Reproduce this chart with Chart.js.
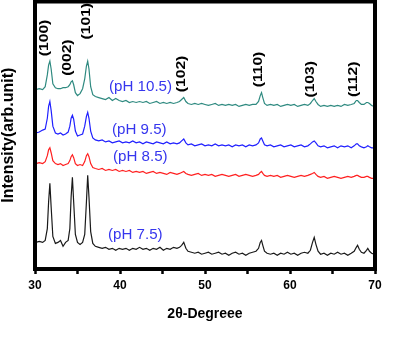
<!DOCTYPE html>
<html>
<head>
<meta charset="utf-8">
<script src="https://cdn.jsdelivr.net/npm/chart.js@4/dist/chart.umd.min.js"></script>
<style>
  body { margin: 0; background: #fff; }
  #wrap { width: 414px; height: 342px; }
</style>
</head>
<body>
<div id="wrap"><canvas id="chart"></canvas></div>
<script>
// 2-theta positions shared by all four patterns
const twoTheta = [
  30.1, 30.5, 30.9, 31.2, 31.45, 31.6, 31.75, 31.9, 32.1, 32.4,
  32.7, 33.0, 33.3, 33.6, 33.9, 34.1, 34.25, 34.4, 34.55, 34.75,
  35.0, 35.3, 35.6, 35.85, 36.05, 36.2, 36.35, 36.55, 36.8, 37.1,
  37.5, 37.9, 38.3, 38.7, 39.1, 39.5, 39.9, 40.3, 40.7, 41.1,
  41.5, 41.9, 42.3, 42.7, 43.1, 43.5, 43.9, 44.3, 44.7, 45.1,
  45.5, 45.9, 46.3, 46.7, 47.0, 47.25, 47.5, 47.75, 48.0, 48.4,
  48.8, 49.2, 49.6, 50.0, 50.4, 50.8, 51.2, 51.6, 52.0, 52.4,
  52.8, 53.2, 53.6, 54.0, 54.4, 54.8, 55.2, 55.6, 56.0, 56.3,
  56.5, 56.65, 56.8, 57.0, 57.3, 57.7, 58.1, 58.5, 58.9, 59.3,
  59.7, 60.1, 60.5, 60.9, 61.3, 61.7, 62.1, 62.4, 62.65, 62.85,
  63.05, 63.3, 63.6, 64.0, 64.4, 64.8, 65.2, 65.6, 66.0, 66.4,
  66.8, 67.2, 67.55, 67.8, 67.95, 68.15, 68.4, 68.7, 69.0, 69.15,
  69.35, 69.6, 69.9
];

// intensities (arb. units, already offset for stacking)
const ph75 = [
  27, 28, 27, 29, 41, 68, 87, 63, 33, 26,
  27, 29, 23, 27, 29, 41, 73, 93, 68, 35,
  27, 25, 27, 35, 68, 95, 73, 38, 26, 23,
  22, 21, 22, 20, 21, 19, 21, 20, 21, 19,
  21, 20, 22, 20, 21, 19, 21, 20, 22, 19,
  21, 20, 22, 21, 22, 24, 27, 21, 18, 17,
  16, 17, 15, 16, 17, 15, 16, 17, 15, 16,
  14, 16, 17, 15, 16, 14, 16, 17, 18, 21,
  27, 29, 24, 18, 16, 15, 16, 14, 16, 15,
  17, 15, 16, 14, 16, 17, 16, 19, 27, 32,
  25, 18, 15, 16, 14, 16, 15, 17, 15, 16,
  14, 16, 18, 22, 24, 20, 17, 16, 19, 21,
  18, 16, 15
];
const ph85 = [
  107, 108, 107, 109, 115, 121, 123, 118, 110, 107,
  106, 107, 105, 106, 107, 110, 114, 116, 113, 107,
  105, 106, 105, 109, 115, 117, 114, 107, 103, 102,
  101, 102, 100, 101, 100, 101, 99, 100, 99, 100,
  98, 99, 98, 99, 97, 98, 99, 97, 98, 97,
  96, 98, 97, 96, 97, 98, 99, 97, 96, 95,
  96, 97, 95, 96, 95, 96, 94, 95, 96, 95,
  94, 95, 96, 94, 95, 96, 95, 94, 95, 96,
  98, 99, 97, 95, 94, 95, 94, 95, 93, 94,
  95, 94, 93, 94, 95, 94, 95, 96, 97, 98,
  96, 94, 93, 94, 92, 93, 94, 93, 92, 93,
  94, 93, 94, 95, 95, 94, 93, 93, 94, 94,
  93, 92, 92
];
const ph95 = [
  138, 139, 141, 142, 153, 165, 170, 161, 145, 138,
  137, 138, 136, 137, 139, 145, 153, 156, 152, 140,
  135, 136, 137, 145, 155, 159, 153, 140, 133, 131,
  130, 131, 129, 130, 128, 129, 130, 128, 129, 128,
  130, 128, 129, 127, 129, 128, 127, 129, 128, 127,
  129, 127, 128, 127, 128, 130, 132, 128, 126, 127,
  125, 126, 127, 125, 126, 125, 127, 125, 126, 125,
  126, 124, 126, 125, 126, 124, 126, 125, 126, 128,
  132, 133, 130, 126, 125, 126, 124, 125, 126, 124,
  125, 126, 124, 125, 126, 124, 125, 127, 129, 130,
  128, 125, 124, 125, 123, 124, 125, 123, 125, 124,
  125, 123, 125, 127, 127, 125, 124, 123, 124, 125,
  124, 123, 123
];
const ph105 = [
  182, 183, 182, 185, 197, 207, 211, 203, 188, 184,
  183, 183, 184, 184, 185, 187, 190, 191, 187, 179,
  176, 178, 183, 193, 206, 211, 203, 185, 177, 175,
  174, 173, 172, 174, 171, 173, 171, 170, 171, 169,
  170, 169, 170, 169, 170, 168, 169, 170, 168, 169,
  168, 169, 168, 169, 170, 172, 174, 170, 168, 167,
  168, 167, 168, 167, 166, 167, 168, 166, 167, 166,
  167, 166, 167, 165, 166, 167, 166, 167, 167, 170,
  176, 179, 174, 168, 166, 167, 166, 167, 165, 166,
  167, 166, 167, 165, 166, 167, 166, 168, 171, 173,
  170, 167, 165, 166, 165, 166, 165, 166, 165, 167,
  166, 167, 168, 171, 171, 169, 167, 167, 169, 169,
  168, 166, 165
];

const xTicks = [30, 40, 50, 60, 70];

// peak indices and sample names, placed in data coordinates
const peakNames = ['(100)', '(002)', '(101)', '(102)', '(110)', '(103)', '(112)'];
const peakAt = [31.06, 33.82, 36.0, 47.24, 56.24, 62.35, 67.47];
const peakLabelY = [234.5, 214.5, 251.5, 198, 202.5, 192.5, 192.5];

const sampleNames = ['(pH 10.5)', '(pH 9.5)', '(pH 8.5)', '(pH 7.5)'];
const sampleAt = [38.71, 39.06, 39.18, 38.59];
const sampleLabelY = [185, 140.5, 113.5, 34];

function pts(ys) {
  return twoTheta.map((x, i) => ({ x: x, y: ys[i] }));
}

function series(label, ys, color) {
  return {
    label: label,
    data: pts(ys),
    borderColor: color,
    borderWidth: 1.2,
    pointRadius: 0,
    tension: 0,
    fill: false
  };
}

const fam = '"Liberation Sans", Arial, sans-serif';

// thick frame round the plot + text labels
const frameAndLabels = {
  id: 'frameAndLabels',
  afterDatasetsDraw(chart) {
    const ctx = chart.ctx;
    const a = chart.chartArea;
    const xs = chart.scales.x;
    const ys = chart.scales.y;
    ctx.save();
    ctx.strokeStyle = '#000';
    ctx.lineWidth = 4;
    ctx.strokeRect(a.left, a.top, a.right - a.left, a.bottom - a.top);
    ctx.restore();

    // rotated hkl labels, reading bottom to top
    const hklFont = Chart.helpers.toFont({ family: fam, size: 13, weight: 'bold' });
    peakNames.forEach((t, i) => {
      ctx.save();
      ctx.translate(xs.getPixelForValue(peakAt[i]), ys.getPixelForValue(peakLabelY[i]));
      ctx.scale(1, 1.2);
      Chart.helpers.renderText(ctx, t, 0, 0, hklFont, {
        rotation: -Math.PI / 2,
        color: '#000',
        textAlign: 'center',
        textBaseline: 'middle'
      });
      ctx.restore();
    });

    const phFont = Chart.helpers.toFont({ family: fam, size: 14 });
    sampleNames.forEach((t, i) => {
      ctx.save();
      ctx.translate(xs.getPixelForValue(sampleAt[i]), ys.getPixelForValue(sampleLabelY[i]));
      ctx.scale(1.08, 1);
      Chart.helpers.renderText(ctx, t, 0, 0, phFont, {
        color: '#3636ee',
        textAlign: 'left',
        textBaseline: 'middle'
      });
      ctx.restore();
    });
  }
};

const chart = document.querySelector('#chart').getContext('2d');

new Chart(chart, {
  type: 'line',
  data: {
    datasets: [
      series('pH 10.5', ph105, '#2f8a80'),
      series('pH 9.5', ph95, '#2020ff'),
      series('pH 8.5', ph85, '#ff2020'),
      series('pH 7.5', ph75, '#1a1a1a')
    ]
  },
  options: {
    responsive: true,
    maintainAspectRatio: false,
    animation: false,
    layout: { padding: { left: 0, right: 39, top: 1.5, bottom: 19.6 } },
    plugins: { legend: { display: false }, tooltip: { enabled: false } },
    scales: {
      x: {
        type: 'linear',
        min: 30,
        max: 70,
        border: { display: false },
        grid: {
          drawOnChartArea: false,
          drawTicks: true,
          tickLength: 5,
          tickWidth: 2.5,
          tickColor: '#000'
        },
        ticks: {
          stepSize: 5,
          autoSkip: false,
          maxRotation: 0,
          padding: 4,
          color: '#000',
          font: { family: fam, size: 12, weight: 'bold' },
          callback: v => xTicks.includes(v) ? v : ''
        },
        title: {
          display: true,
          text: '2θ-Degreee',
          color: '#000',
          font: { family: fam, size: 14, weight: 'bold' },
          padding: { top: 9.2, bottom: 0 }
        }
      },
      y: {
        min: 0,
        max: 271.5,
        border: { display: false },
        grid: { display: false, drawTicks: false },
        ticks: { display: false },
        title: {
          display: true,
          text: 'Intensity(arb.unit)',
          color: '#000',
          font: { family: fam, size: 16, weight: 'bold', lineHeight: 1 },
          padding: { top: 0.5, bottom: 18.5 }
        }
      }
    }
  },
  plugins: [frameAndLabels]
});
</script>
</body>
</html>
